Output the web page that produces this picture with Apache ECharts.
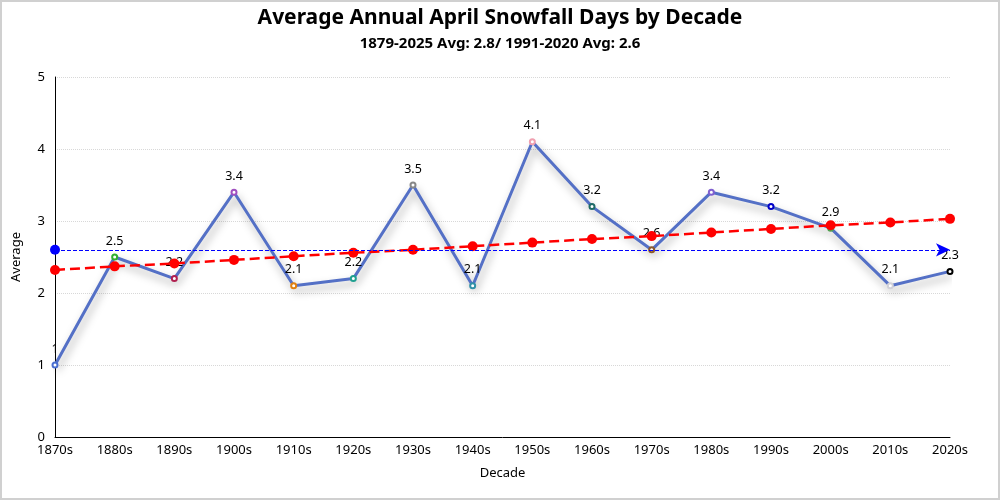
<!DOCTYPE html>
<html>
<head>
<meta charset="utf-8">
<script src="https://cdn.jsdelivr.net/npm/echarts@6/dist/echarts.min.js"></script>
<style>
  html, body { margin: 0; padding: 0; background: #fff; }
  #chart { width: 1000px; height: 500px; box-sizing: border-box; border: 2px solid #d0d0d0; }
</style>
</head>
<body>
<div id="chart"></div>
<script>
const categories = ['1870s','1880s','1890s','1900s','1910s','1920s','1930s','1940s','1950s','1960s','1970s','1980s','1990s','2000s','2010s','2020s'];
const averages = [1.0, 2.5, 2.2, 3.4, 2.1, 2.2, 3.5, 2.1, 4.1, 3.2, 2.6, 3.4, 3.2, 2.9, 2.1, 2.3];
const trend = [2.32, 2.37, 2.41, 2.46, 2.51, 2.56, 2.60, 2.65, 2.70, 2.75, 2.79, 2.84, 2.89, 2.94, 2.98, 3.03];
const normal1991_2020 = 2.6;
const pointColors = ['#4a6fd0','#30b030','#b02050','#a050c0','#e08010','#20a090','#888888','#3090a8','#f0a0b0','#1f6a66','#8b5a2b','#8060d0','#0000c8','#50a050','#d0d0d8','#000000'];
const yTicks = [0, 1, 2, 3, 4, 5];

const chart = echarts.init(document.getElementById('chart'));
const font = '"Noto Sans", "Open Sans", sans-serif';
chart.setOption({
  animation: false,
  textStyle: { fontFamily: font },
  title: {
    text: 'Average Annual April Snowfall Days by Decade',
    subtext: '1879-2025 Avg: 2.8/ 1991-2020 Avg: 2.6',
    left: 'center',
    top: 1,
    itemGap: 7,
    textStyle: { fontSize: 21, fontWeight: 'bold', color: '#000', fontFamily: font },
    subtextStyle: { fontSize: 15, fontWeight: 'bold', color: '#000', fontFamily: font }
  },
  grid: { left: 53, right: 48, top: 75, bottom: 61, containLabel: false },
  xAxis: {
    type: 'category',
    data: categories,
    boundaryGap: false,
    name: 'Decade',
    nameLocation: 'middle',
    nameGap: 30,
    nameTextStyle: { fontSize: 13, color: '#000' },
    axisLine: { lineStyle: { color: '#000', width: 1 } },
    axisTick: { show: false },
    axisLabel: { fontSize: 13, color: '#000', margin: 7 },
    splitLine: { show: false }
  },
  yAxis: {
    type: 'value',
    min: yTicks[0],
    max: yTicks[yTicks.length - 1],
    interval: 1,
    name: 'Average',
    nameLocation: 'middle',
    nameGap: 32,
    nameTextStyle: { fontSize: 13, color: '#000' },
    axisLine: { show: true, lineStyle: { color: '#000', width: 1 } },
    axisTick: { show: false },
    axisLabel: { fontSize: 13, color: '#000', margin: 10 },
    splitLine: { show: true, lineStyle: { color: '#d8d8d8', type: 'dotted' } }
  },
  series: [
    {
      name: 'Average',
      type: 'line',
      data: averages.map((v, i) => ({ value: v, itemStyle: { color: pointColors[i], borderColor: pointColors[i] } })),
      symbol: 'emptyCircle',
      symbolSize: 5,
      itemStyle: { borderWidth: 1.5 },
      lineStyle: {
        color: '#5470c6', width: 3,
        shadowColor: 'rgba(0,0,0,0.35)', shadowBlur: 8, shadowOffsetX: 2, shadowOffsetY: 5
      },
      label: { show: true, position: 'top', fontSize: 12.5, color: '#000', distance: 6 },
      markLine: {
        silent: true,
        symbol: ['circle', 'arrow'],
        symbolSize: [10, 14],
        label: { show: false },
        lineStyle: { color: '#0000ff', type: 'dashed', width: 1 },
        itemStyle: { color: '#0000ff' },
        data: [{ yAxis: normal1991_2020 }]
      },
      z: 3
    },
    {
      name: 'Trend',
      type: 'line',
      data: trend,
      symbol: 'circle',
      symbolSize: 10,
      itemStyle: { color: '#ff0000' },
      lineStyle: { color: '#ff0000', width: 2.5, type: [10, 5] },
      label: { show: false },
      z: 4
    }
  ]
});
</script>
</body>
</html>
